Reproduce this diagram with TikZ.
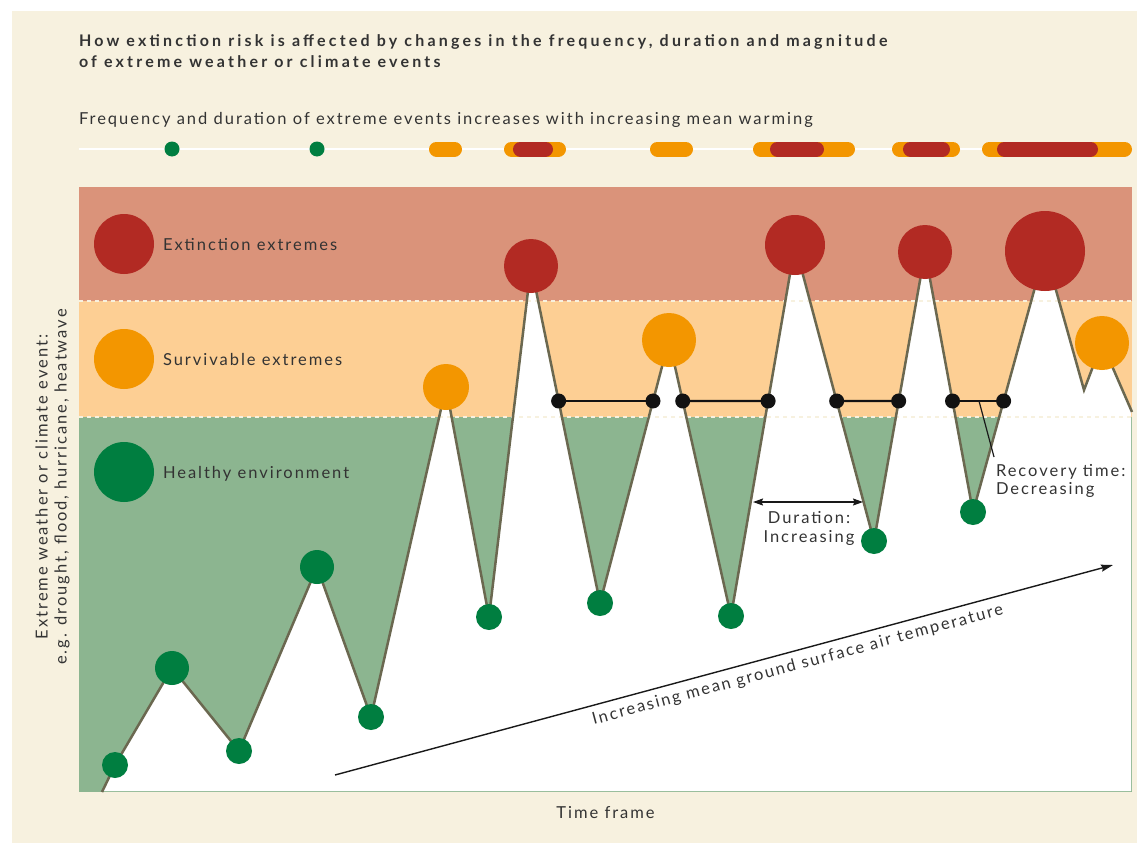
\documentclass[tikz,border=0pt]{standalone}
\usepackage{fontspec}
\setmainfont{Lato}[LetterSpace=12]
\newfontfamily\titlefont{Lato}[LetterSpace=20]
\usetikzlibrary{arrows.meta,calc}
\definecolor{cream}{HTML}{F7F1DF}
\definecolor{bandred}{HTML}{DA937A}
\definecolor{bandorange}{HTML}{FDCF94}
\definecolor{bandgreen}{HTML}{8CB590}
\definecolor{dotred}{HTML}{B22A23}
\definecolor{dotorange}{HTML}{F39600}
\definecolor{dotgreen}{HTML}{007E40}
\definecolor{lineolive}{HTML}{6B6850}
\definecolor{txt}{HTML}{333333}
\newcommand\mypill[3]{\draw[line width=15pt, line cap=round, draw=#1] (#2+7.5,149) -- (#3-7.5,149);}
\begin{document}
\begin{tikzpicture}[x=1pt,y=-1pt,
  every node/.style={inner sep=0pt, outer sep=0pt, text=txt},
  lbl/.style={font=\fontsize{16.5}{19}\selectfont},
  ttl/.style={font=\titlefont\bfseries\fontsize{16}{19}\selectfont},
  ev/.style={circle, minimum size=#1, fill},
  kdot/.style={circle, minimum size=15pt, fill=black!93},
  sep/.style={draw=cream, line width=2pt, dash pattern=on 4pt off 4pt},
  profile/.style={draw=lineolive, line width=2.5pt, line join=miter},
  conn/.style={draw=black!93, line width=2.2pt},
  arr/.style={draw=black!90, line width=1.4pt}
]
\useasboundingbox (0,0) rectangle (1137,843);
\fill[white] (0,0) rectangle (1137,843);
\fill[cream] (12,11) rectangle (1137,843);

% titles
\node[ttl, anchor=base west] (t1) at (79,47) {How extinction risk is affected by changes in the frequency, duration and magnitude};
\node[ttl, anchor=base west] (t2) at (79,67) {of extreme weather or climate events};
\node[lbl, anchor=base west] (sub) at (79,124) {Frequency and duration of extreme events increases with increasing mean warming};

% top strip
\draw[white, line width=2.5pt] (79,149) -- (1132,149);
\node[ev=15, fill=dotgreen] (s1) at (172,149) {};
\node[ev=15, fill=dotgreen] (s2) at (317,149) {};
\mypill{dotorange}{429}{462}
\mypill{dotorange}{504}{566}
\mypill{dotred}{513}{553}
\mypill{dotorange}{650}{693}
\mypill{dotorange}{753}{855}
\mypill{dotred}{770}{824}
\mypill{dotorange}{892}{960}
\mypill{dotred}{903}{950}
\mypill{dotorange}{982}{1132}
\mypill{dotred}{997}{1098}

% bands
\fill[bandred] (79,187) rectangle (1132,301);
\fill[bandorange] (79,301) rectangle (1132,417);
\fill[bandgreen] (79,417) rectangle (1132,792);

% profile vertices
\coordinate (v0) at (102,792);
\coordinate (v1) at (115,765);
\coordinate (v2) at (172,668);
\coordinate (v3) at (239,751);
\coordinate (v4) at (317,567);
\coordinate (v5) at (371,717);
\coordinate (v6) at (446,387);
\coordinate (v7) at (489,617);
\coordinate (v8) at (531,266);
\coordinate (v9) at (600,603);
\coordinate (v10) at (669,340);
\coordinate (v11) at (731,616);
\coordinate (v12) at (795,245);
\coordinate (v13) at (874,541);
\coordinate (v14) at (925,252);
\coordinate (v15) at (973,512);
\coordinate (v16) at (1045,251);
\coordinate (v17) at (1084,390);
\coordinate (v18) at (1102,343);
\coordinate (v19) at (1132,412);
\coordinate (hl) at (79,401);
\coordinate (hr) at (1132,401);

\fill[white] (v0) -- (v1) -- (v2) -- (v3) -- (v4) -- (v5) -- (v6) -- (v7) -- (v8) -- (v9) -- (v10) -- (v11) -- (v12) -- (v13) -- (v14) -- (v15) -- (v16) -- (v17) -- (v18) -- (v19) -- (1131,412) -- (1131,791) -- (102,791) -- cycle;

\draw[sep] (79,301) -- (1132,301);
\draw[sep] (79,417) -- (1132,417);

\draw[profile] (v0) -- (v1) -- (v2) -- (v3) -- (v4) -- (v5) -- (v6) -- (v7) -- (v8) -- (v9) -- (v10) -- (v11) -- (v12) -- (v13) -- (v14) -- (v15) -- (v16) -- (v17) -- (v18) -- (v19);

% recovery / duration connectors
\coordinate (jA) at (intersection of v8--v9 and hl--hr);
\coordinate (jB) at (intersection of v9--v10 and hl--hr);
\coordinate (jC) at (intersection of v10--v11 and hl--hr);
\coordinate (jD) at (intersection of v11--v12 and hl--hr);
\coordinate (jE) at (intersection of v12--v13 and hl--hr);
\coordinate (jF) at (intersection of v13--v14 and hl--hr);
\coordinate (jG) at (intersection of v14--v15 and hl--hr);
\coordinate (jH) at (intersection of v15--v16 and hl--hr);
\draw[conn] (jA) -- (jB);
\draw[conn] (jC) -- (jD);
\draw[conn] (jE) -- (jF);
\draw[conn] (jG) -- (jH);
\node[kdot] (kA) at (jA) {};
\node[kdot] (kB) at (jB) {};
\node[kdot] (kC) at (jC) {};
\node[kdot] (kD) at (jD) {};
\node[kdot] (kE) at (jE) {};
\node[kdot] (kF) at (jF) {};
\node[kdot] (kG) at (jG) {};
\node[kdot] (kH) at (jH) {};

% event circles
\node[ev=26, fill=dotgreen] (e1) at (v1) {};
\node[ev=34, fill=dotgreen] (e2) at (v2) {};
\node[ev=26, fill=dotgreen] (e3) at (v3) {};
\node[ev=34, fill=dotgreen] (e4) at (v4) {};
\node[ev=26, fill=dotgreen] (e5) at (v5) {};
\node[ev=46, fill=dotorange] (e6) at (v6) {};
\node[ev=26, fill=dotgreen] (e7) at (v7) {};
\node[ev=54, fill=dotred] (e8) at (v8) {};
\node[ev=26, fill=dotgreen] (e9) at (v9) {};
\node[ev=54, fill=dotorange] (e10) at (v10) {};
\node[ev=26, fill=dotgreen] (e11) at (v11) {};
\node[ev=60, fill=dotred] (e12) at (v12) {};
\node[ev=26, fill=dotgreen] (e13) at (v13) {};
\node[ev=54, fill=dotred] (e14) at (v14) {};
\node[ev=26, fill=dotgreen] (e15) at (v15) {};
\node[ev=80, fill=dotred] (e16) at (v16) {};
\node[ev=54, fill=dotorange] (e18) at (v18) {};

% legend
\node[ev=60, fill=dotred] (lr) at (124,244) {};
\node[ev=60, fill=dotorange] (lo) at (124,359) {};
\node[ev=60, fill=dotgreen] (lg) at (124,472) {};
\node[lbl, anchor=base west] (lrt) at (163,250) {Extinction extremes};
\node[lbl, anchor=base west] (lot) at (163,365) {Survivable extremes};
\node[lbl, anchor=base west] (lgt) at (163,478) {Healthy environment};

% duration
\coordinate (da) at (753,502);
\coordinate (db) at (863,502);
\draw[arr, {Stealth[length=10pt,width=7pt,inset=1.5pt]}-{Stealth[length=10pt,width=7pt,inset=1.5pt]}] (da) -- (db);
\node[lbl, anchor=base] (dur1) at (809,523) {Duration:};
\node[lbl, anchor=base] (dur2) at (809,542) {Increasing};

% recovery
\coordinate (ra) at (979,401);
\coordinate (rb) at (994,457);
\draw[black!90, line width=1.2pt] (ra) -- (rb);
\node[lbl, anchor=base west] (rec1) at (996,476) {Recovery time:};
\node[lbl, anchor=base west] (rec2) at (996,494) {Decreasing};

% temperature arrow
\coordinate (ta) at (335,775);
\coordinate (tb) at (1113,565);
\draw[arr, -{Stealth[length=12pt,width=7pt,inset=1.5pt]}] (ta) -- (tb) node[lbl, sloped, pos=0.59, below=7pt] (temp) {Increasing mean ground surface air temperature};

% axis labels
\node[lbl, rotate=90, align=center] (ylab) at (52.5,487) {Extreme weather or climate event:\\e.g. drought, flood, hurricane, heatwave};
\node[lbl, anchor=base] (xlab) at (605.5,818) {Time frame};
\end{tikzpicture}
\end{document}
